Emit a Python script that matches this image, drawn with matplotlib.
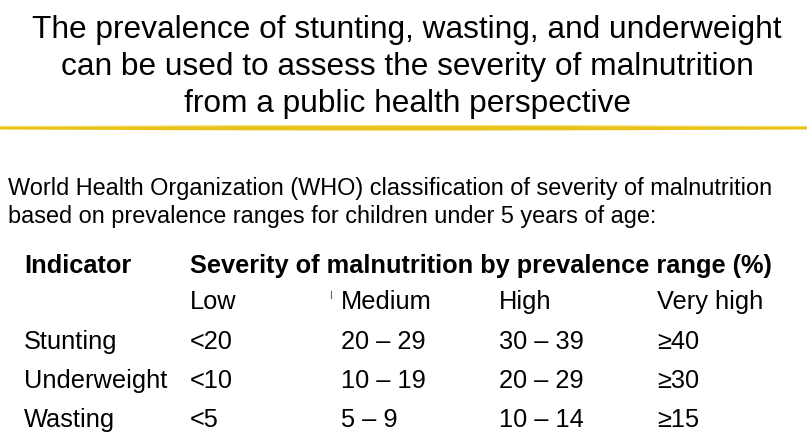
import matplotlib
matplotlib.use("Agg")
import matplotlib.pyplot as plt
import numpy as np

title_lines = ["The prevalence of stunting, wasting, and underweight",
               "can be used to assess the severity of malnutrition",
               "from a public health perspective"]
intro_lines = ["World Health Organization (WHO) classification of severity of malnutrition",
               "based on prevalence ranges for children under 5 years of age:"]
header = ["Indicator", "Severity of malnutrition by prevalence range (%)"]
levels = ["Low", "Medium", "High", "Very high"]
indicators = ["Stunting", "Underweight", "Wasting"]
ranges = [["<20", "20 – 29", "30 – 39", "≥40"],
          ["<10", "10 – 19", "20 – 29", "≥30"],
          ["<5", "5 – 9", "10 – 14", "≥15"]]

W, H = 807, 434
fig = plt.figure(figsize=(W/100, H/100), dpi=100)
ax = fig.add_axes([0, 0, 1, 1])
ax.set_xlim(0, W); ax.set_ylim(H, 0); ax.axis("off")
font = "Liberation Sans"

for i, t in enumerate(title_lines):
    ax.text(407, 30 + i*37, t, ha="center", va="center", fontsize=22.8, family=font)

# yellow brush line
x = np.linspace(0, W, 200)
ax.fill_between(x, 128 - 1.2 - 1.5*np.sin(np.pi*x/W), 128 + 1.5 + 1.0*np.sin(np.pi*x/W),
                color="#e8c21a", lw=0)
ax.plot(x, 126.5 - 0.8*np.sin(np.pi*x/W), color="#f5df6a", lw=0.8)

for i, t in enumerate(intro_lines):
    ax.text(8, 189 + i*28, t, ha="left", va="center", fontsize=16.9, family=font)

ax.text(24, 266, header[0], ha="left", va="center", fontsize=18.3, family=font, weight="bold")
ax.text(190, 266, header[1], ha="left", va="center", fontsize=18.3, family=font, weight="bold")
colx = [190, 341, 499, 657]
for x0, lv in zip(colx, levels):
    ax.text(x0, 302, lv, ha="left", va="center", fontsize=18.3, family=font)
ax.plot([331, 331], [291, 298], color="#666666", lw=0.8)
for r, (ind, row) in enumerate(zip(indicators, ranges)):
    y = 342 + r*39
    ax.text(24, y, ind, ha="left", va="center", fontsize=18.3, family=font)
    for x0, v in zip(colx, row):
        ax.text(x0, y, v, ha="left", va="center", fontsize=18.3, family=font)

fig.savefig("out.png", dpi=100)
